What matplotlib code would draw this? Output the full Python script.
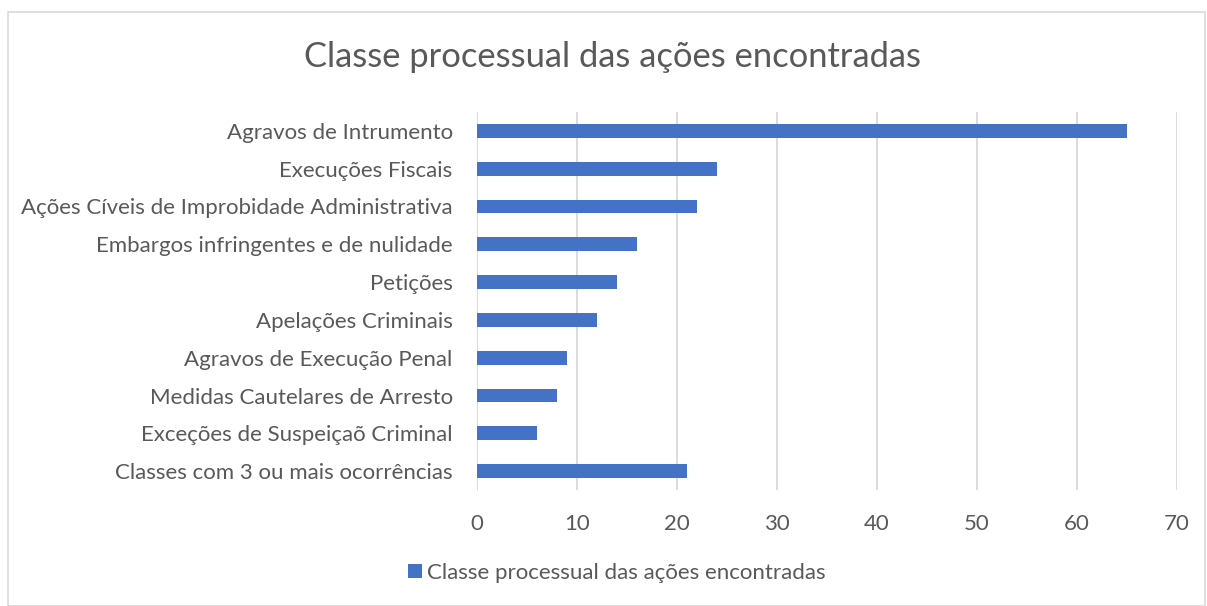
import matplotlib.pyplot as plt
from matplotlib.patches import Rectangle

# Data
categories = [
    "Agravos de Intrumento",
    "Execuções Fiscais",
    "Ações Cíveis de Improbidade Administrativa",
    "Embargos infringentes e de nulidade",
    "Petições",
    "Apelações Criminais",
    "Agravos de Execução Penal",
    "Medidas Cautelares de Arresto",
    "Exceções de Suspeiçaõ Criminal",
    "Classes com 3 ou mais ocorrências",
]
values = [65, 24, 22, 16, 14, 12, 9, 8, 6, 21]
x_ticks = [0, 10, 20, 30, 40, 50, 60, 70]
series_name = "Classe processual das ações encontradas"

plt.rcParams["font.family"] = ["Lato", "DejaVu Sans"]
text_color = "#595959"
bar_color = "#4472C4"

W, H = 1207, 606
fig = plt.figure(figsize=(W / 100, H / 100), dpi=100)

# chart border
fig.patches.append(Rectangle((8 / W, 0), (W - 10) / W, 1 - 12 / H,
                             transform=fig.transFigure, fill=False,
                             edgecolor="#D9D9D9", linewidth=1.2))

ax = fig.add_axes([477 / W, 1 - 490 / H, 700 / W, (490 - 112) / H])

pos = list(range(len(categories)))
ax.barh(pos, values, height=0.37, color=bar_color, label=series_name, zorder=3)
ax.set_ylim(len(categories) - 0.5, -0.5)
ax.set_xlim(0, 70)
ax.set_xticks(x_ticks)
ax.set_yticks(pos)
ax.set_yticklabels(categories)
ax.tick_params(axis="y", length=0, pad=17.5, labelsize=16, labelcolor=text_color)
ax.tick_params(axis="x", length=0, pad=17, labelsize=16, labelcolor=text_color)
ax.grid(axis="x", color="#D9D9D9", linewidth=1.3, zorder=0)
for s in ax.spines.values():
    s.set_visible(False)

fig.text(612 / W, 1 - 57 / H, "Classe processual das ações encontradas",
         ha="center", va="center", fontsize=24.8, color=text_color)

fig.legend(loc="center", bbox_to_anchor=(617 / W, 1 - 573 / H), frameon=False,
           fontsize=16, labelcolor=text_color, handlelength=0.6,
           handleheight=0.6, handletextpad=0.25)

fig.savefig("out.png", dpi=100)
